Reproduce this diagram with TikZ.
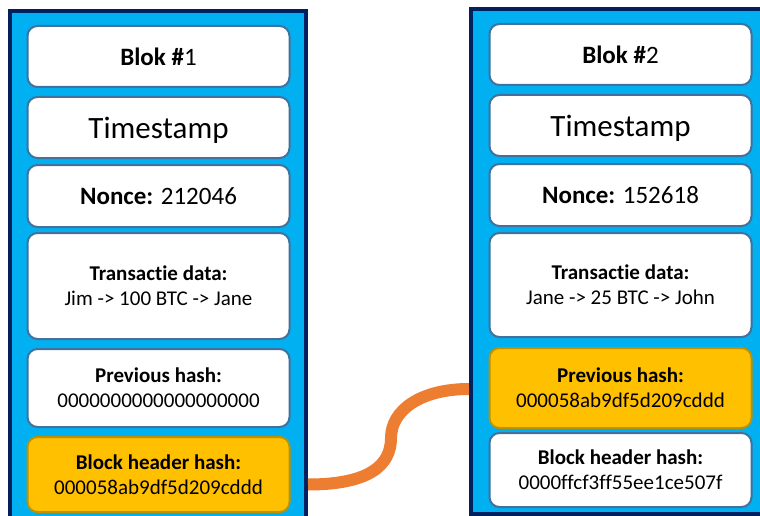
\documentclass[tikz,border=0pt]{standalone}
\usepackage{fontspec}
\setmainfont{Carlito}[Ligatures=NoCommon]
\usetikzlibrary{calc}

\definecolor{blokblauw}{HTML}{00B0F0}
\definecolor{blokrand}{HTML}{002060}
\definecolor{vakrand}{HTML}{41719C}
\definecolor{hashgeel}{HTML}{FFC000}
\definecolor{hashrand}{HTML}{BF9000}
\definecolor{ketting}{HTML}{ED7D31}

\begin{document}
\begin{tikzpicture}[x=1pt, y=-1pt,
	blok/.style={draw=blokrand, line width=4pt, fill=blokblauw, inner sep=0pt},
	vak/.style={draw=vakrand, line width=2pt, fill=white, rounded corners=10pt,
		minimum width=262pt, inner sep=0pt, align=center,
		font=\fontsize{21}{25}\selectfont},
	geel/.style={vak, draw=hashrand, fill=hashgeel},
	groot/.style={font=\fontsize{25}{30}\selectfont},
	tijd/.style={font=\fontsize{31}{36}\selectfont, text depth=0pt},
	link/.style={draw=ketting, line width=12pt}]
	\clip (0,0) rectangle (760,516);

	% Blok 1
	\node[blok, minimum width=296.5pt, minimum height=540pt] (blk1) at (157.75,281) {};
	\node[vak, groot, minimum height=61pt] (kop1) at (158.5,56.5) {\textbf{Blok \#}1};
	\node[vak, tijd, minimum height=61pt] (tijd1) at (158.5,127.5) {Timestamp};
	\node[vak, groot, minimum height=62pt] (nonce1) at (158.5,196) {\textbf{Nonce:} 212046};
	\node[vak, minimum height=106pt] (data1) at (158.5,286) {\textbf{Transactie data:}\\Jim -> 100 BTC -> Jane};
	\node[vak, minimum height=78pt] (prev1) at (158.5,388) {\textbf{Previous hash:}\\0000000000000000000};
	\node[geel, minimum height=75pt] (hdr1) at (158.5,474.5) {\textbf{Block header hash:}\\000058ab9df5d209cddd};

	% Blok 2
	\node[blok, minimum width=319pt, minimum height=504.5pt] (blk2) at (630.5,261.25) {};
	\node[vak, groot, minimum height=61pt] (kop2) at (620.5,54.5) {\textbf{Blok \#}2};
	\node[vak, tijd, minimum height=61pt] (tijd2) at (620.5,125.5) {Timestamp};
	\node[vak, groot, minimum height=62pt] (nonce2) at (620.5,195) {\textbf{Nonce:} 152618};
	\node[vak, minimum height=104pt] (data2) at (620.5,285) {\textbf{Transactie data:}\\Jane -> 25 BTC -> John};
	\node[geel, minimum height=80pt] (prev2) at (620.5,388) {\textbf{Previous hash:}\\000058ab9df5d209cddd};
	\node[vak, minimum height=74pt] (hdr2) at (620.5,470) {\textbf{Block header hash:}\\0000ffcf3ff55ee1ce507f};

	% ketting tussen de blokken
	\coordinate (van) at ($(hdr1.center -| blk1.east)+(0,10)$);
	\coordinate (knik) at (391,438);
	\coordinate (naar) at ($(prev2.center -| blk2.west)+(0,1)$);
	\draw[link] (van) .. controls +(60,0) and +(0,28) .. (knik)
		.. controls +(0,-28) and +(-48,0) .. (naar);
\end{tikzpicture}
\end{document}
